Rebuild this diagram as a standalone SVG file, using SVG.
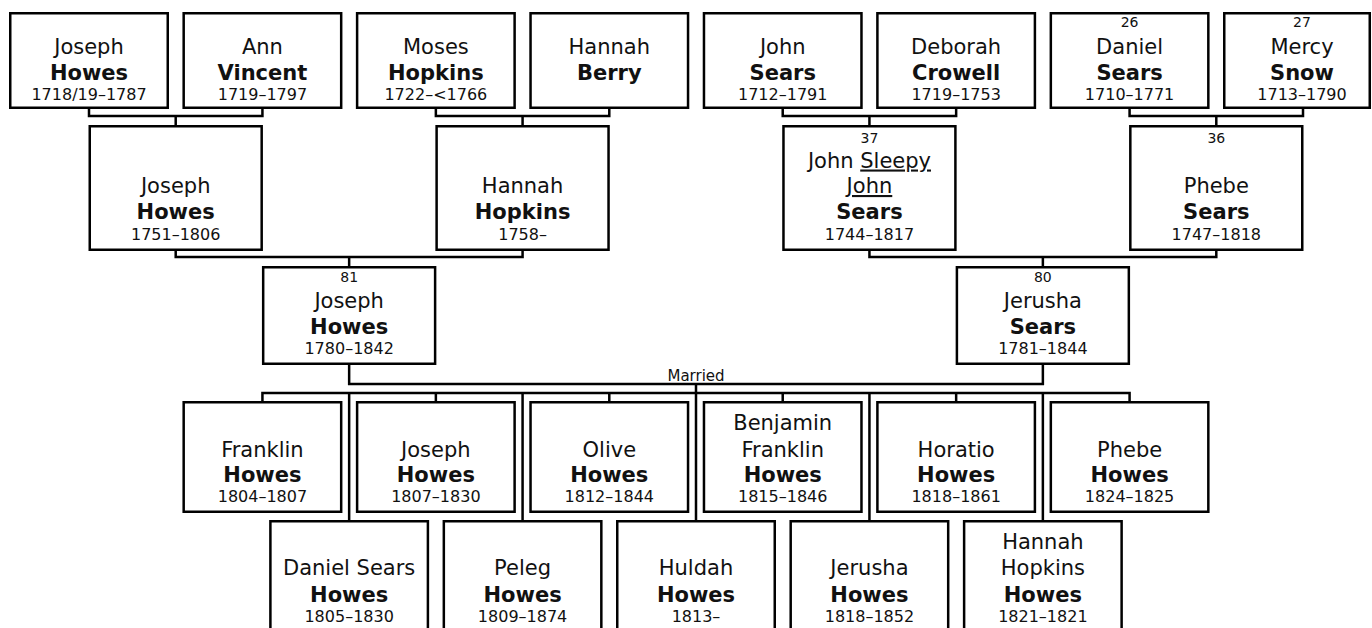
<svg xmlns="http://www.w3.org/2000/svg" width="1372" height="628" viewBox="0 0 1372 628">
<style>
.box{fill:#fff;stroke:#000;stroke-width:2.5}
.con{fill:none;stroke:#000;stroke-width:2.5}
text{font-family:"DejaVu Sans",Verdana,sans-serif;fill:#111;text-anchor:middle}
.n{font-size:21px}
.s{font-size:21px;font-weight:bold}
.d{font-size:16px}
.num{font-size:14px}
.m{font-size:15px}
.u{text-decoration:underline}
</style>
<rect width="1372" height="628" fill="#fff"/>
<g id="connectors">
<path class="con" d="M89 109V116H262.43V109M175.7 116V125"/>
<path class="con" d="M435.86 109V116H609.29V109M522.58 116V125"/>
<path class="con" d="M782.72 109V116H956.15V109M869.44 116V125"/>
<path class="con" d="M1129.58 109V116H1303.01V109M1216.3 116V125"/>
<path class="con" d="M175.7 251V257H522.58V251M349.15 257V266"/>
<path class="con" d="M869.44 251V257H1216.3V251M1042.87 257V266"/>
<path class="con" d="M349.15 365V384H1042.87V365M696 384V393"/>
<path class="con" d="M262.43 401V393H1129.58V401M435.86 393V401M609.29 393V401M782.72 393V401M956.15 393V401"/>
<path class="con" d="M349.15 393V520M522.58 393V520M696 393V520M869.44 393V520M1042.87 393V520"/>
<text class="m" x="696" y="381">Married</text>
</g>
<g id="p1"><rect class="box" x="10.25" y="13.25" width="157.5" height="94.5"/><text class="n" x="89" y="54">Joseph</text><text class="s" x="89" y="80">Howes</text><text class="d" x="89" y="100">1718/19–1787</text></g>
<g id="p2"><rect class="box" x="183.68" y="13.25" width="157.5" height="94.5"/><text class="n" x="262.43" y="54">Ann</text><text class="s" x="262.43" y="80">Vincent</text><text class="d" x="262.43" y="100">1719–1797</text></g>
<g id="p3"><rect class="box" x="357.11" y="13.25" width="157.5" height="94.5"/><text class="n" x="435.86" y="54">Moses</text><text class="s" x="435.86" y="80">Hopkins</text><text class="d" x="435.86" y="100">1722–&lt;1766</text></g>
<g id="p4"><rect class="box" x="530.54" y="13.25" width="157.5" height="94.5"/><text class="n" x="609.29" y="54">Hannah</text><text class="s" x="609.29" y="80">Berry</text></g>
<g id="p5"><rect class="box" x="703.97" y="13.25" width="157.5" height="94.5"/><text class="n" x="782.72" y="54">John</text><text class="s" x="782.72" y="80">Sears</text><text class="d" x="782.72" y="100">1712–1791</text></g>
<g id="p6"><rect class="box" x="877.4" y="13.25" width="157.5" height="94.5"/><text class="n" x="956.15" y="54">Deborah</text><text class="s" x="956.15" y="80">Crowell</text><text class="d" x="956.15" y="100">1719–1753</text></g>
<g id="p7"><rect class="box" x="1050.83" y="13.25" width="157.5" height="94.5"/><text class="num" x="1129.58" y="27">26</text><text class="n" x="1129.58" y="54">Daniel</text><text class="s" x="1129.58" y="80">Sears</text><text class="d" x="1129.58" y="100">1710–1771</text></g>
<g id="p8"><rect class="box" x="1224.26" y="13.25" width="145.5" height="94.5"/><text class="num" x="1302" y="27">27</text><text class="n" x="1302" y="54">Mercy</text><text class="s" x="1302" y="80">Snow</text><text class="d" x="1302" y="100">1713–1790</text></g>
<g id="g1"><rect class="box" x="89.75" y="126.25" width="171.93" height="123.5"/><text class="n" x="175.7" y="193">Joseph</text><text class="s" x="175.7" y="219">Howes</text><text class="d" x="175.7" y="240">1751–1806</text></g>
<g id="g2"><rect class="box" x="436.61" y="126.25" width="171.93" height="123.5"/><text class="n" x="522.58" y="193">Hannah</text><text class="s" x="522.58" y="219">Hopkins</text><text class="d" x="522.58" y="240">1758–</text></g>
<g id="g3"><rect class="box" x="783.47" y="126.25" width="171.93" height="123.5"/><text class="num" x="869.44" y="142.5">37</text><text class="n" x="869.44" y="167.5">John <tspan class="u">Sleepy</tspan></text><text class="n u" x="869.44" y="193">John</text><text class="s" x="869.44" y="219">Sears</text><text class="d" x="869.44" y="240">1744–1817</text></g>
<g id="g4"><rect class="box" x="1130.33" y="126.25" width="171.93" height="123.5"/><text class="num" x="1216.3" y="142.5">36</text><text class="n" x="1216.3" y="193">Phebe</text><text class="s" x="1216.3" y="219">Sears</text><text class="d" x="1216.3" y="240">1747–1818</text></g>
<g id="f1"><rect class="box" x="263.18" y="267.25" width="171.93" height="96.5"/><text class="num" x="349.15" y="282">81</text><text class="n" x="349.15" y="308">Joseph</text><text class="s" x="349.15" y="334">Howes</text><text class="d" x="349.15" y="354">1780–1842</text></g>
<g id="f2"><rect class="box" x="956.9" y="267.25" width="171.93" height="96.5"/><text class="num" x="1042.87" y="282">80</text><text class="n" x="1042.87" y="308">Jerusha</text><text class="s" x="1042.87" y="334">Sears</text><text class="d" x="1042.87" y="354">1781–1844</text></g>
<g id="c1"><rect class="box" x="183.68" y="402.25" width="157.5" height="109.5"/><text class="n" x="262.43" y="456.5">Franklin</text><text class="s" x="262.43" y="482">Howes</text><text class="d" x="262.43" y="501.5">1804–1807</text></g>
<g id="c3"><rect class="box" x="357.11" y="402.25" width="157.5" height="109.5"/><text class="n" x="435.86" y="456.5">Joseph</text><text class="s" x="435.86" y="482">Howes</text><text class="d" x="435.86" y="501.5">1807–1830</text></g>
<g id="c5"><rect class="box" x="530.54" y="402.25" width="157.5" height="109.5"/><text class="n" x="609.29" y="456.5">Olive</text><text class="s" x="609.29" y="482">Howes</text><text class="d" x="609.29" y="501.5">1812–1844</text></g>
<g id="c7"><rect class="box" x="703.97" y="402.25" width="157.5" height="109.5"/><text class="n" x="782.72" y="430">Benjamin</text><text class="n" x="782.72" y="456.5">Franklin</text><text class="s" x="782.72" y="482">Howes</text><text class="d" x="782.72" y="501.5">1815–1846</text></g>
<g id="c9"><rect class="box" x="877.4" y="402.25" width="157.5" height="109.5"/><text class="n" x="956.15" y="456.5">Horatio</text><text class="s" x="956.15" y="482">Howes</text><text class="d" x="956.15" y="501.5">1818–1861</text></g>
<g id="c11"><rect class="box" x="1050.83" y="402.25" width="157.5" height="109.5"/><text class="n" x="1129.58" y="456.5">Phebe</text><text class="s" x="1129.58" y="482">Howes</text><text class="d" x="1129.58" y="501.5">1824–1825</text></g>
<g id="c2"><rect class="box" x="270.4" y="521.25" width="157.5" height="111"/><text class="n" x="349.15" y="575">Daniel Sears</text><text class="s" x="349.15" y="601.5">Howes</text><text class="d" x="349.15" y="621.5">1805–1830</text></g>
<g id="c4"><rect class="box" x="443.83" y="521.25" width="157.5" height="111"/><text class="n" x="522.58" y="575">Peleg</text><text class="s" x="522.58" y="601.5">Howes</text><text class="d" x="522.58" y="621.5">1809–1874</text></g>
<g id="c6"><rect class="box" x="617.25" y="521.25" width="157.5" height="111"/><text class="n" x="696" y="575">Huldah</text><text class="s" x="696" y="601.5">Howes</text><text class="d" x="696" y="621.5">1813–</text></g>
<g id="c8"><rect class="box" x="790.69" y="521.25" width="157.5" height="111"/><text class="n" x="869.44" y="575">Jerusha</text><text class="s" x="869.44" y="601.5">Howes</text><text class="d" x="869.44" y="621.5">1818–1852</text></g>
<g id="c10"><rect class="box" x="964.12" y="521.25" width="157.5" height="111"/><text class="n" x="1042.87" y="549">Hannah</text><text class="n" x="1042.87" y="575">Hopkins</text><text class="s" x="1042.87" y="601.5">Howes</text><text class="d" x="1042.87" y="621.5">1821–1821</text></g>
</svg>
